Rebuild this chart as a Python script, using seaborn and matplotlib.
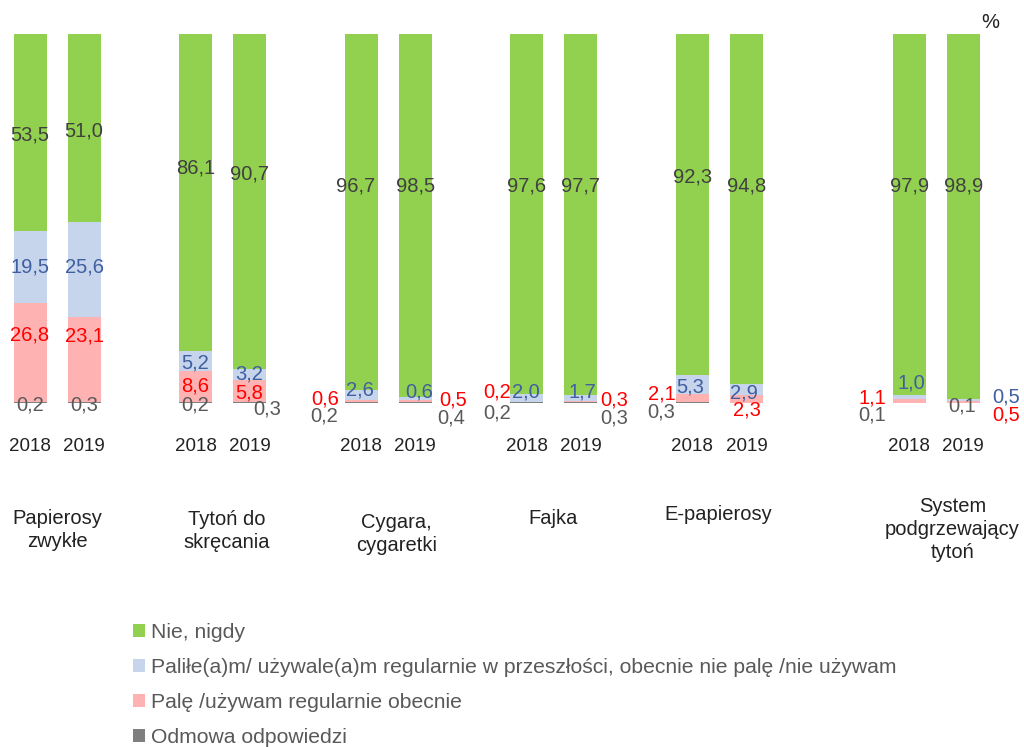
import numpy as np
import pandas as pd
import seaborn as sns
import matplotlib.pyplot as plt

# dane
categories = ['Papierosy\nzwykłe', 'Tytoń do\nskręcania', 'Cygara,\ncygaretki',
              'Fajka', 'E-papierosy', 'System\npodgrzewający\ntytoń']
years = ['2018', '2019']
series_names = ['Nie, nigdy',
                'Paliłe(a)m/ używale(a)m regularnie w przeszłości, obecnie nie palę /nie używam',
                'Palę /używam regularnie obecnie',
                'Odmowa odpowiedzi']
# kolejnosc slupkow: (kategoria, rok)
nigdy = [53.5, 51.0, 86.1, 90.7, 96.7, 98.5, 97.6, 97.7, 92.3, 94.8, 97.9, 98.9]
dawniej = [19.5, 25.6, 5.2, 3.2, 2.6, 0.6, 2.0, 1.7, 5.3, 2.9, 1.0, 0.5]
obecnie = [26.8, 23.1, 8.6, 5.8, 0.6, 0.5, 0.2, 0.3, 2.1, 2.3, 1.1, 0.5]
odmowa = [0.2, 0.3, 0.2, 0.3, 0.2, 0.4, 0.2, 0.3, 0.3, 0.0, 0.1, 0.1]

colors = ['#92D050', '#C6D4EC', '#FFB2B2', '#7F7F7F']
text_colors = ['#404040', '#3F5FA0', '#FF0000', '#595959']

# uklad
group_pos = [0, 1, 2, 3, 4, 5.31]
px_unit = 165.6      # pikseli na jednostke osi x
px_pct = 3.69        # pikseli na 1 %
bar_off = 27 / px_unit
bar_w = 33 / px_unit

# polozenie etykiet: y w %, przesuniecie x w px
lab_y = [
    [72.6, 73.7, 63.7, 62.1, 58.8, 58.8, 58.8, 58.8, 61.2, 58.8, 58.8, 58.8],
    [36.9, 36.9, 10.8, 7.9, 3.5, 3.0, 3.0, 3.0, 4.3, 2.7, 5.4, 1.6],
    [18.4, 18.2, 4.6, 2.7, 1.2, 0.8, 3.0, 0.8, 2.4, -1.9, 1.4, -3.3],
    [-0.5, -0.5, -0.5, -1.6, -3.4, -4.1, -2.7, -4.1, -2.4, 0, -3.3, -0.8],
]
lab_dx = [
    [0, 0, 0, 0, -6, 0, 0, 0, 0, 0, 0, 0],
    [0, 0, 0, 0, -1, 4, -1, 2, -2, -2, 2, 43],
    [0, 0, 0, 0, -36, 38, -30, 33, -31, 1, -37, 43],
    [0, 0, 0, 18, -37, 36, -30, 33, -31, 0, -37, -1],
]
cat_dx = [0, 4, 8, -1, -1, 16]
cat_y = [-34.4, -34.7, -35.5, -31.2, -30.1, -34.3]

x_pos = []
for g in group_pos:
    x_pos += [g - bar_off, g + bar_off]

c1 = np.array(odmowa)
c2 = c1 + np.array(obecnie)
c3 = c2 + np.array(dawniej)
c4 = c3 + np.array(nigdy)
df = pd.DataFrame({'x': x_pos, 'c1': c1, 'c2': c2, 'c3': c3, 'c4': c4})

sns.set_theme(style='white')
plt.rcParams['font.family'] = ['Liberation Sans', 'DejaVu Sans']

fig = plt.figure(figsize=(10.24, 7.47), dpi=100)
ax = fig.add_axes([0, 0, 1, 1])

rel_w = bar_w / np.min(np.diff(sorted(x_pos)))
for col, name, color in zip(['c4', 'c3', 'c2', 'c1'], series_names, colors):
    sns.barplot(data=df, x='x', y=col, native_scale=True, orient='x', color=color,
                width=rel_w, errorbar=None, linewidth=0, saturation=1, label=name, ax=ax)

ax.set_xlim(-57 / px_unit, (1024 - 57) / px_unit)
ax.set_ylim((403 - 747) / px_pct, 403 / px_pct)
ax.axis('off')

# etykiety wartosci
fs = 14.5
for s, vals in enumerate([nigdy, dawniej, obecnie, odmowa]):
    for i, v in enumerate(vals):
        if v == 0:
            continue
        ax.text(x_pos[i] + lab_dx[s][i] / px_unit, lab_y[s][i], f'{v:.1f}'.replace('.', ','),
                ha='center', va='center', fontsize=fs, color=text_colors[s])

# lata
for i, x in enumerate(x_pos):
    ax.text(x, -11.9, years[i % 2], ha='center', va='center', fontsize=13.5, color='#222222')

# kategorie
for g, cat, dx, y in zip(group_pos, categories, cat_dx, cat_y):
    ax.text(g + dx / px_unit, y, cat, ha='center', va='center', fontsize=fs,
            color='#222222', linespacing=1.25)

ax.text((990 - 57) / px_unit, (403 - 22) / px_pct, '%', ha='center', va='center',
        fontsize=fs, color='#222222')

ax.legend(loc='upper left', bbox_to_anchor=(133 / 1024, 1 - 623 / 747), frameon=False,
          fontsize=15.2, labelcolor='#595959', handlelength=0.55, handleheight=0.55,
          handletextpad=0.3, labelspacing=0.76, borderpad=0, borderaxespad=0)

fig.savefig('out.png', dpi=100)
